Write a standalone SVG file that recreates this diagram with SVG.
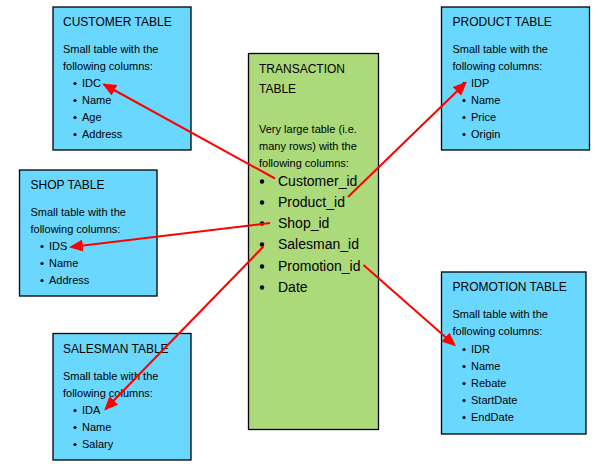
<svg xmlns="http://www.w3.org/2000/svg" width="598" height="468" viewBox="0 0 598 468">
<style>
.box{fill:#6AD8FE;stroke:#000;stroke-width:1.3}
.tbox{fill:#ACDA7B;stroke:#000;stroke-width:1.3}
.t{font-family:"Liberation Sans",Arial,sans-serif;font-size:12px;fill:#000}
.b{font-family:"Liberation Sans",Arial,sans-serif;font-size:11px;fill:#000}
.bl{font-family:"Liberation Sans",Arial,sans-serif;font-size:14px;fill:#000}
.dot{fill:#000}
.arr{stroke:#FF0000;stroke-width:2;fill:none;marker-end:url(#ah)}
</style>
<defs>
<marker id="ah" markerWidth="7" markerHeight="6" refX="6" refY="3" orient="auto" markerUnits="strokeWidth">
<path d="M0,0 L7,3 L0,6 Z" fill="#FF0000"/>
</marker>
</defs>
<rect width="598" height="468" fill="#fff"/>

<g id="customer">
<rect class="box" x="53" y="7" width="138" height="143"/>
<text class="t" x="63" y="26">CUSTOMER TABLE</text>
<text class="b" x="63" y="53">Small table with the</text>
<text class="b" x="63" y="70">following columns:</text>
<circle class="dot" cx="75" cy="83.5" r="1.6"/><text class="b" x="82" y="87">IDC</text>
<circle class="dot" cx="75" cy="100.5" r="1.6"/><text class="b" x="82" y="104">Name</text>
<circle class="dot" cx="75" cy="117.5" r="1.6"/><text class="b" x="82" y="121">Age</text>
<circle class="dot" cx="75" cy="134.5" r="1.6"/><text class="b" x="82" y="138">Address</text>
</g>

<g id="product">
<rect class="box" x="441.5" y="7" width="148" height="143"/>
<text class="t" x="452.5" y="26">PRODUCT TABLE</text>
<text class="b" x="452.5" y="53">Small table with the</text>
<text class="b" x="452.5" y="70">following columns:</text>
<circle class="dot" cx="464" cy="83.5" r="1.6"/><text class="b" x="471" y="87">IDP</text>
<circle class="dot" cx="464" cy="100.5" r="1.6"/><text class="b" x="471" y="104">Name</text>
<circle class="dot" cx="464" cy="117.5" r="1.6"/><text class="b" x="471" y="121">Price</text>
<circle class="dot" cx="464" cy="134.5" r="1.6"/><text class="b" x="471" y="138">Origin</text>
</g>

<g id="shop">
<rect class="box" x="19.5" y="170" width="137.5" height="126"/>
<text class="t" x="30.5" y="189">SHOP TABLE</text>
<text class="b" x="30.5" y="216">Small table with the</text>
<text class="b" x="30.5" y="233">following columns:</text>
<circle class="dot" cx="42" cy="246.5" r="1.6"/><text class="b" x="49" y="250">IDS</text>
<circle class="dot" cx="42" cy="263.5" r="1.6"/><text class="b" x="49" y="267">Name</text>
<circle class="dot" cx="42" cy="280.5" r="1.6"/><text class="b" x="49" y="284">Address</text>
</g>

<g id="salesman">
<rect class="box" x="53" y="333.5" width="138" height="126.5"/>
<text class="t" x="63" y="353">SALESMAN TABLE</text>
<text class="b" x="63" y="380">Small table with the</text>
<text class="b" x="63" y="397">following columns:</text>
<circle class="dot" cx="75" cy="410.5" r="1.6"/><text class="b" x="82" y="414">IDA</text>
<circle class="dot" cx="75" cy="427.5" r="1.6"/><text class="b" x="82" y="431">Name</text>
<circle class="dot" cx="75" cy="444.5" r="1.6"/><text class="b" x="82" y="448">Salary</text>
</g>

<g id="promotion">
<rect class="box" x="441.5" y="272" width="144.5" height="162"/>
<text class="t" x="452.5" y="291">PROMOTION TABLE</text>
<text class="b" x="452.5" y="318">Small table with the</text>
<text class="b" x="452.5" y="335">following columns:</text>
<circle class="dot" cx="464" cy="349.5" r="1.6"/><text class="b" x="471" y="353">IDR</text>
<circle class="dot" cx="464" cy="366.5" r="1.6"/><text class="b" x="471" y="370">Name</text>
<circle class="dot" cx="464" cy="383.5" r="1.6"/><text class="b" x="471" y="387">Rebate</text>
<circle class="dot" cx="464" cy="400.5" r="1.6"/><text class="b" x="471" y="404">StartDate</text>
<circle class="dot" cx="464" cy="417.5" r="1.6"/><text class="b" x="471" y="421">EndDate</text>
</g>

<g id="transaction">
<rect class="tbox" x="248.5" y="53.5" width="130" height="376"/>
<text class="t" x="259" y="73">TRANSACTION</text>
<text class="t" x="259" y="93">TABLE</text>
<text class="b" x="259" y="133">Very large table (i.e.</text>
<text class="b" x="259" y="150">many rows) with the</text>
<text class="b" x="259" y="167">following columns:</text>
<circle class="dot" cx="262" cy="181.5" r="2.2"/><text class="bl" x="278" y="186">Customer_id</text>
<circle class="dot" cx="262" cy="202.5" r="2.2"/><text class="bl" x="278" y="207">Product_id</text>
<circle class="dot" cx="262" cy="223.5" r="2.2"/><text class="bl" x="278" y="228">Shop_id</text>
<circle class="dot" cx="262" cy="244.5" r="2.2"/><text class="bl" x="278" y="249">Salesman_id</text>
<circle class="dot" cx="262" cy="266.5" r="2.2"/><text class="bl" x="278" y="271">Promotion_id</text>
<circle class="dot" cx="262" cy="287.5" r="2.2"/><text class="bl" x="278" y="292">Date</text>
</g>

<g id="connectors">
<line class="arr" x1="275" y1="178.5" x2="104" y2="84.5"/>
<line class="arr" x1="348" y1="197" x2="465.5" y2="83"/>
<line class="arr" x1="270" y1="223" x2="71" y2="247"/>
<line class="arr" x1="263.5" y1="246.5" x2="105.5" y2="409"/>
<line class="arr" x1="363.5" y1="265" x2="454.5" y2="345"/>
</g>
</svg>
